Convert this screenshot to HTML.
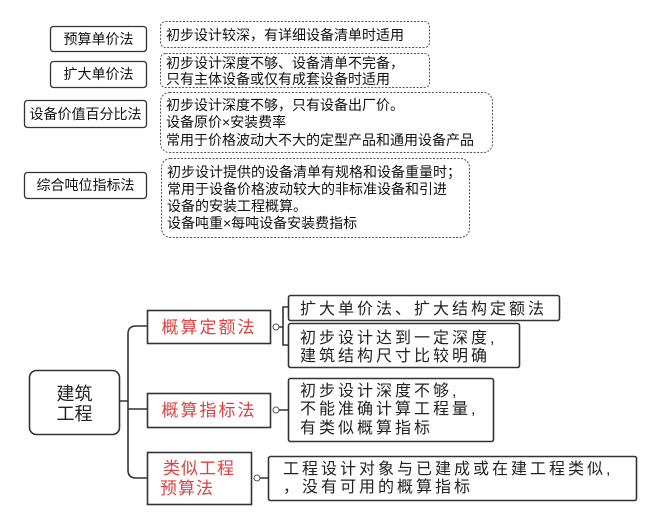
<!DOCTYPE html>
<html><head><meta charset="utf-8"><style>
html,body{margin:0;padding:0;background:#fff;}
svg{display:block;}
text{font-family:"Liberation Sans","Noto Sans CJK SC",sans-serif;}
</style></head><body>
<svg width="650" height="523" viewBox="0 0 650 523" xmlns="http://www.w3.org/2000/svg">
<g fill="none" stroke="#333" stroke-width="1.3">
<rect x="50.5" y="26.5" width="96" height="25" rx="3"/>
<rect x="50.5" y="61.5" width="96" height="26" rx="3"/>
<rect x="24.5" y="100.5" width="122" height="27" rx="3"/>
<rect x="24.5" y="172.5" width="122" height="26" rx="3"/>
</g>
<g fill="none" stroke="#555" stroke-width="1" stroke-dasharray="2,1.5">
<rect x="160.5" y="21.5" width="269" height="26" rx="5"/>
<rect x="160.5" y="53.5" width="269" height="34" rx="5"/>
<rect x="160.5" y="92.5" width="332" height="60" rx="9"/>
<rect x="161.5" y="158.5" width="308" height="79" rx="9"/>
</g>
<g font-size="14" fill="#111">
<text x="98.5" y="44" text-anchor="middle">预算单价法</text>
<text x="98.5" y="79" text-anchor="middle">扩大单价法</text>
<text x="85.5" y="119" text-anchor="middle">设备价值百分比法</text>
<text x="85.5" y="190" text-anchor="middle">综合吨位指标法</text>
<text x="166" y="40">初步设计较深，有详细设备清单时适用</text>
<text x="166" y="68">初步设计深度不够、设备清单不完备，</text>
<text x="166" y="84">只有主体设备或仅有成套设备时适用</text>
<text x="166" y="110">初步设计深度不够，只有设备出厂价。</text>
<text x="166" y="127">设备原价×安装费率</text>
<text x="166" y="145">常用于价格波动大不大的定型产品和通用设备产品</text>
<text x="167" y="177">初步设计提供的设备清单有规格和设备重量时；</text>
<text x="167" y="194">常用于设备价格波动较大的非标准设备和引进</text>
<text x="167" y="211">设备的安装工程概算。</text>
<text x="167" y="228">设备吨重×每吨设备安装费指标</text>
</g>
<g fill="none" stroke="#333" stroke-width="1.6">
<rect x="29.5" y="370.5" width="90" height="64" rx="7"/>
<path d="M120 401 H128 M136 326 H147 M136 478 H147 M128 409 H147 M136 326 Q128 326 128 334 V470 Q128 478 136 478"/>
<rect x="147.5" y="310.5" width="123" height="33"/>
<rect x="147.5" y="393.5" width="123" height="34"/>
<rect x="147.5" y="452.5" width="104" height="52"/>
<rect x="288.5" y="295.5" width="271" height="25" rx="2"/>
<rect x="288.5" y="323.5" width="231" height="44" rx="2"/>
<rect x="288.5" y="378.5" width="205" height="63" rx="2"/>
<rect x="268.5" y="456.5" width="368" height="44" rx="2"/>
<path d="M279 327 H283 M288 307 H283 V345 H288 M279 410 H288 M260 478 H268"/>
</g>
<g fill="#fff" stroke="#555" stroke-width="1">
<circle cx="276" cy="327" r="3"/>
<circle cx="276" cy="410" r="3"/>
<circle cx="257" cy="478" r="3"/>
</g>
<g font-size="18" fill="#222">
<text x="74.5" y="400" text-anchor="middle">建筑</text>
<text x="74.5" y="420" text-anchor="middle">工程</text>
</g>
<g font-size="17" fill="#e04040">
<text x="209" y="333" text-anchor="middle" letter-spacing="2">概算定额法</text>
<text x="209" y="416" text-anchor="middle" letter-spacing="2">概算指标法</text>
<text x="199" y="474" text-anchor="middle" letter-spacing="1">类似工程</text>
<text x="187" y="494" text-anchor="middle" letter-spacing="1">预算法</text>
</g>
<g font-size="16" fill="#222" letter-spacing="3">
<text x="300" y="314">扩大单价法、扩大结构定额法</text>
<text x="300" y="343">初步设计达到一定深度,</text>
<text x="300" y="361">建筑结构尺寸比较明确</text>
<text x="300" y="396">初步设计深度不够,</text>
<text x="300" y="414">不能准确计算工程量,</text>
<text x="300" y="433">有类似概算指标</text>
<text x="283" y="474">工程设计对象与已建成或在建工程类似,</text>
<text x="283" y="492">，没有可用的概算指标</text>
</g>
</svg>
</body></html>
